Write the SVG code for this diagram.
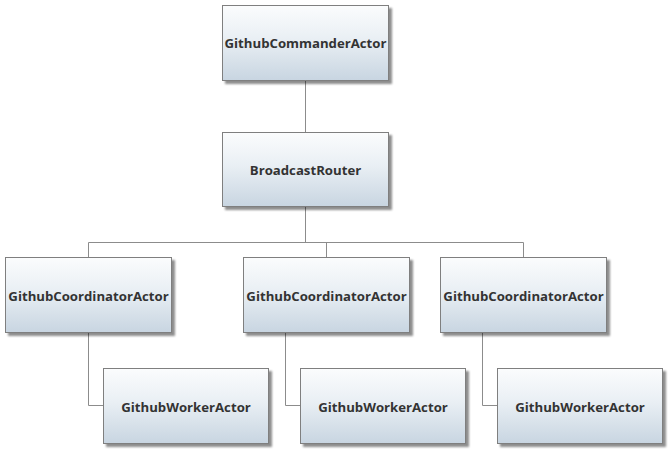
<svg xmlns="http://www.w3.org/2000/svg" width="672" height="463" viewBox="0 0 672 463">
<defs>
<linearGradient id="g" x1="0" y1="0" x2="0" y2="1">
<stop offset="0" stop-color="#fbfcfd"/>
<stop offset="0.45" stop-color="#e9eff4"/>
<stop offset="1" stop-color="#c8d5e1"/>
</linearGradient>
<filter id="sh" x="-10%" y="-10%" width="130%" height="140%">
<feGaussianBlur in="SourceAlpha" stdDeviation="1.2"/>
<feOffset dx="3" dy="3" result="b"/>
<feComponentTransfer><feFuncA type="linear" slope="0.45"/></feComponentTransfer>
<feMerge><feMergeNode/><feMergeNode in="SourceGraphic"/></feMerge>
</filter>
</defs>
<style>
.box{fill:url(#g);stroke:#7f7f7f;stroke-width:1;filter:url(#sh)}
.t{font-family:"Open Sans","DejaVu Sans",sans-serif;font-weight:bold;font-size:13.2px;fill:#333;text-anchor:middle;dominant-baseline:central}
.c{fill:none;stroke:#8c8c8c;stroke-width:1}
</style>
<rect width="672" height="463" fill="#fff"/>
<g id="connectors">
<path class="c" d="M305.5 80V132"/>
<path class="c" d="M305.5 206V242.5"/>
<path class="c" d="M88.5 257V242.5H523.5V257"/>
<path class="c" d="M326.5 242.5V257"/>
<path class="c" d="M88.5 333V405.5H103"/>
<path class="c" d="M285.5 333V405.5H300"/>
<path class="c" d="M482.5 333V405.5H497"/>
</g>
<g id="commander"><rect class="box" x="222.5" y="5.5" width="166" height="75"/><text class="t" x="305.5" y="43">GithubCommanderActor</text></g>
<g id="router"><rect class="box" x="222.5" y="132.5" width="166" height="74"/><text class="t" x="305.5" y="170">BroadcastRouter</text></g>
<g id="coord1"><rect class="box" x="5.5" y="257.5" width="166" height="75"/><text class="t" x="88.5" y="296">GithubCoordinatorActor</text></g>
<g id="coord2"><rect class="box" x="243.5" y="257.5" width="166" height="75"/><text class="t" x="326.5" y="296">GithubCoordinatorActor</text></g>
<g id="coord3"><rect class="box" x="440.5" y="257.5" width="166" height="75"/><text class="t" x="523.5" y="296">GithubCoordinatorActor</text></g>
<g id="worker1"><rect class="box" x="103.5" y="368.5" width="165" height="75"/><text class="t" x="186" y="407">GithubWorkerActor</text></g>
<g id="worker2"><rect class="box" x="300.5" y="368.5" width="165" height="75"/><text class="t" x="383" y="407">GithubWorkerActor</text></g>
<g id="worker3"><rect class="box" x="497.5" y="368.5" width="165" height="75"/><text class="t" x="580" y="407">GithubWorkerActor</text></g>
</svg>
